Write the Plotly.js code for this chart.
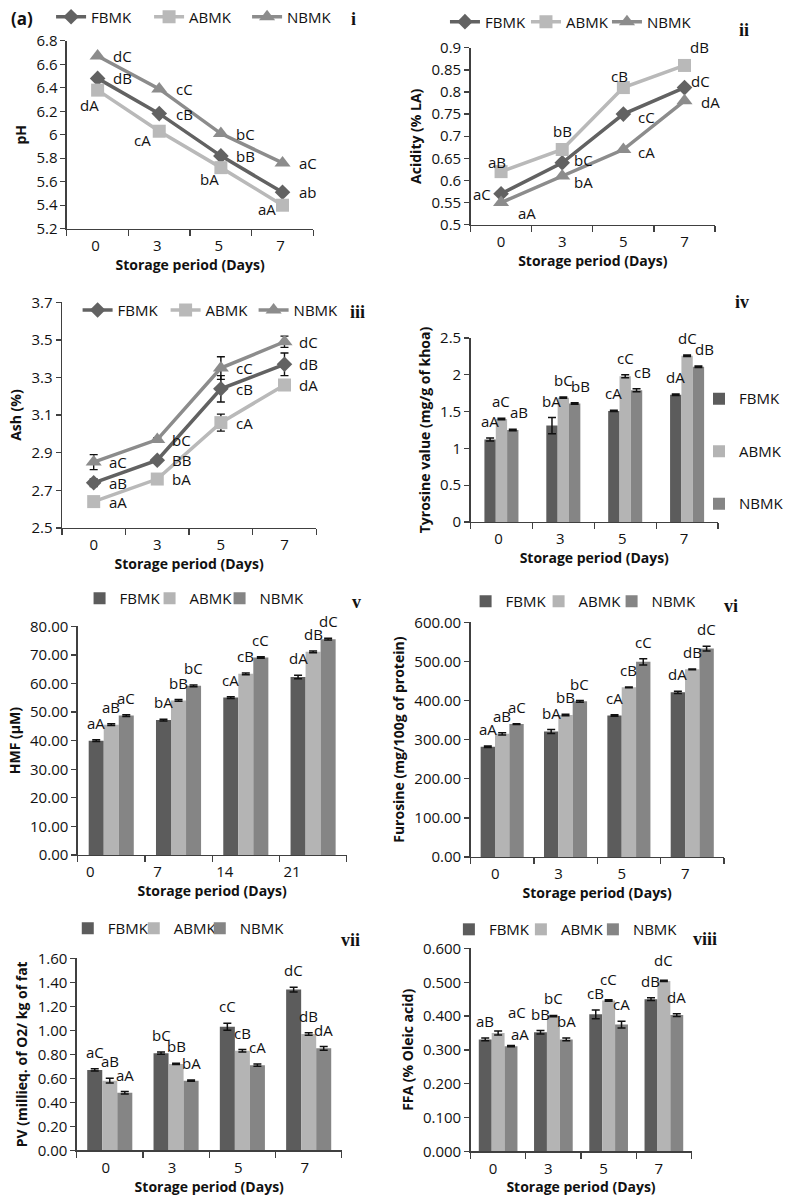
<!DOCTYPE html>
<html><head><meta charset="utf-8">
<script src="https://cdn.plot.ly/plotly-3.0.1.min.js"></script>
<style>html,body{margin:0;padding:0;background:#fff;}#chart{width:789px;height:1196px;}</style>
</head><body><div id="chart"></div>
<script>
const W = 789, H = 1196;
const seriesNames = ['FBMK', 'ABMK', 'NBMK'];
const days = ['0', '3', '5', '7'];
const daysHMF = ['0', '7', '14', '21'];

// (i) pH
const pH_FBMK = [6.48, 6.18, 5.82, 5.51];
const pH_ABMK = [6.38, 6.03, 5.72, 5.40];
const pH_NBMK = [6.67, 6.39, 6.01, 5.76];
const pH_lab_FBMK = ['dB', 'cB', 'bB', 'ab'];
const pH_lab_ABMK = ['dA', 'cA', 'bA', 'aA'];
const pH_lab_NBMK = ['dC', 'cC', 'bC', 'aC'];

// (ii) Acidity
const acid_FBMK = [0.57, 0.64, 0.75, 0.81];
const acid_ABMK = [0.62, 0.67, 0.81, 0.86];
const acid_NBMK = [0.55, 0.61, 0.67, 0.78];
const acid_lab_FBMK = ['aC', 'bC', 'cC', 'dC'];
const acid_lab_ABMK = ['aB', 'bB', 'cB', 'dB'];
const acid_lab_NBMK = ['aA', 'bA', 'cA', 'dA'];

// (iii) Ash
const ash_FBMK = [2.74, 2.86, 3.24, 3.37];
const ash_ABMK = [2.64, 2.76, 3.06, 3.26];
const ash_NBMK = [2.85, 2.97, 3.35, 3.49];
const ash_err_FBMK = [0.02, 0.01, 0.07, 0.06];
const ash_err_ABMK = [0.02, 0.02, 0.045, 0.02];
const ash_err_NBMK = [0.04, 0.01, 0.06, 0.03];
const ash_lab_FBMK = ['aB', 'BB', 'cB', 'dB'];
const ash_lab_ABMK = ['aA', 'bA', 'cA', 'dA'];
const ash_lab_NBMK = ['aC', 'bC', 'cC', 'dC'];

// (iv) Tyrosine
const tyr_FBMK = [1.12, 1.31, 1.51, 1.73];
const tyr_ABMK = [1.40, 1.69, 1.98, 2.26];
const tyr_NBMK = [1.25, 1.61, 1.79, 2.11];
const tyr_err_FBMK = [0.02, 0.11, 0.01, 0.01];
const tyr_err_ABMK = [0.01, 0.01, 0.02, 0.01];
const tyr_err_NBMK = [0.01, 0.01, 0.02, 0.01];
const tyr_lab_FBMK = ['aA', 'bA', 'cA', 'dA'];
const tyr_lab_ABMK = ['aC', 'bC', 'cC', 'dC'];
const tyr_lab_NBMK = ['aB', 'bB', 'cB', 'dB'];

// (v) HMF
const hmf_FBMK = [40.0, 47.2, 55.1, 62.3];
const hmf_ABMK = [45.6, 54.1, 63.4, 71.1];
const hmf_NBMK = [48.8, 59.2, 69.1, 75.5];
const hmf_err_FBMK = [0.3, 0.3, 0.3, 0.6];
const hmf_err_ABMK = [0.3, 0.3, 0.3, 0.3];
const hmf_err_NBMK = [0.3, 0.3, 0.3, 0.3];
const hmf_lab_FBMK = ['aA', 'bA', 'cA', 'dA'];
const hmf_lab_ABMK = ['aB', 'bB', 'cB', 'dB'];
const hmf_lab_NBMK = ['aC', 'bC', 'cC', 'dC'];

// (vi) Furosine
const fur_FBMK = [282, 321, 362, 421];
const fur_ABMK = [315, 363, 434, 480];
const fur_NBMK = [340, 398, 499, 533];
const fur_err_FBMK = [2, 5, 2, 3];
const fur_err_ABMK = [3, 2, 1, 1];
const fur_err_NBMK = [1, 2, 8, 6];
const fur_lab_FBMK = ['aA', 'bA', 'cA', 'dA'];
const fur_lab_ABMK = ['aB', 'bB', 'cB', 'dB'];
const fur_lab_NBMK = ['aC', 'bC', 'cC', 'dC'];

// (vii) PV
const pv_FBMK = [0.67, 0.81, 1.03, 1.34];
const pv_ABMK = [0.58, 0.72, 0.83, 0.97];
const pv_NBMK = [0.48, 0.58, 0.71, 0.85];
const pv_err_FBMK = [0.01, 0.01, 0.03, 0.02];
const pv_err_ABMK = [0.02, 0.005, 0.01, 0.01];
const pv_err_NBMK = [0.01, 0.005, 0.01, 0.015];
const pv_lab_FBMK = ['aC', 'bC', 'cC', 'dC'];
const pv_lab_ABMK = ['aB', 'bB', 'cB', 'dB'];
const pv_lab_NBMK = ['aA', 'bA', 'cA', 'dA'];

// (viii) FFA
const ffa_FBMK = [0.331, 0.352, 0.405, 0.450];
const ffa_ABMK = [0.350, 0.400, 0.446, 0.504];
const ffa_NBMK = [0.311, 0.331, 0.375, 0.403];
const ffa_err_FBMK = [0.004, 0.005, 0.013, 0.004];
const ffa_err_ABMK = [0.006, 0.002, 0.002, 0.002];
const ffa_err_NBMK = [0.002, 0.004, 0.01, 0.004];
const ffa_lab_FBMK = ['aB', 'bB', 'cB', 'dB'];
const ffa_lab_ABMK = ['aC', 'bC', 'cC', 'dC'];
const ffa_lab_NBMK = ['aA', 'bA', 'cA', 'dA'];

// ---------------- styling / layout -----------------
const FONT = 'Open Sans, Lato, sans-serif';
const SERIF = 'Liberation Serif, DejaVu Serif, serif';
const AX = '#404040';
const BARCOL = {FBMK: '#5c5c5c', ABMK: '#b4b4b4', NBMK: '#858585'};
const LINECOL = {FBMK: '#626262', ABMK: '#b9b9b9', NBMK: '#8c8c8c'};
const SYM = {FBMK: 'diamond', ABMK: 'square', NBMK: 'triangle-up'};
const MSIZE = {FBMK: 12, ABMK: 13, NBMK: 14};

const panels = [
  {kind: 'line', box: [68, 319, 34, 223], cats: days, yr: [5.2, 6.8], dtick: 0.2, fmt: '', ytitle: 'pH',
   vals: {FBMK: pH_FBMK, ABMK: pH_ABMK, NBMK: pH_NBMK}, errs: null,
   labs: {FBMK: pH_lab_FBMK, ABMK: pH_lab_ABMK, NBMK: pH_lab_NBMK},
   off: {FBMK: [[25, 0]], ABMK: [[-8, -15], [-17, -9], [-11, -11], [-16, -4]], NBMK: [[25, 0]]},
   tag: 'i', tagPos: [360, 12], leg: {x: 52, y: 10, ew: 53}, shift: -2},
  {kind: 'line', box: [479, 728, 41, 219], cats: days, yr: [0.5, 0.9], dtick: 0.05, fmt: '.2~f', ytitle: 'Acidity (% LA)',
   vals: {FBMK: acid_FBMK, ABMK: acid_ABMK, NBMK: acid_NBMK}, errs: null,
   labs: {FBMK: acid_lab_FBMK, ABMK: acid_lab_ABMK, NBMK: acid_lab_NBMK},
   off: {FBMK: [[-19, 0], [21, 3], [23, -3], [16, 7]], ABMK: [[-4, 10], [0, 19], [-4, 12], [15, 18]], NBMK: [[26, -10], [21, -6], [23, -2], [26, -1]]},
   tag: 'ii', tagPos: [757, 23], leg: {x: 453, y: 15, ew: 36}, shift: 0},
  {kind: 'line', box: [63, 322, 297, 524], cats: days, yr: [2.5, 3.7], dtick: 0.2, fmt: '', ytitle: 'Ash (%)',
   vals: {FBMK: ash_FBMK, ABMK: ash_ABMK, NBMK: ash_NBMK}, errs: {FBMK: ash_err_FBMK, ABMK: ash_err_ABMK, NBMK: ash_err_NBMK},
   labs: {FBMK: ash_lab_FBMK, ABMK: ash_lab_ABMK, NBMK: ash_lab_NBMK},
   off: {FBMK: [[24, 0]], ABMK: [[24, 0]], NBMK: [[24, 0]]},
   tag: 'iii', tagPos: [364, 307], leg: {x: 79, y: 305, ew: 43}, shift: 0},
  {kind: 'bar', box: [479, 731, 333, 518], cats: days, yr: [0, 2.5], dtick: 0.5, fmt: '', ytitle: 'Tyrosine value (mg/g of khoa)',
   vals: {FBMK: tyr_FBMK, ABMK: tyr_ABMK, NBMK: tyr_NBMK}, errs: {FBMK: tyr_err_FBMK, ABMK: tyr_err_ABMK, NBMK: tyr_err_NBMK},
   labs: {FBMK: tyr_lab_FBMK, ABMK: tyr_lab_ABMK, NBMK: tyr_lab_NBMK}, gap: 0.45,
   nudge: {NBMK: [6, 0]},
   tag: 'iv', tagPos: [755, 297], leg: {x: 712, y: 447, vertical: true, gap: 30}, shift: -3},
  {kind: 'bar', box: [79, 353, 623, 853], cats: daysHMF, yr: [0, 80], dtick: 10, fmt: '.2f', ytitle: 'HMF (μM)',
   vals: {FBMK: hmf_FBMK, ABMK: hmf_ABMK, NBMK: hmf_NBMK}, errs: {FBMK: hmf_err_FBMK, ABMK: hmf_err_ABMK, NBMK: hmf_err_NBMK},
   labs: {FBMK: hmf_lab_FBMK, ABMK: hmf_lab_ABMK, NBMK: hmf_lab_NBMK}, gap: 0.33,
   tag: 'v', tagPos: [363, 599], leg: {x: 81, y: 595, ew: 25}, shift: -21},
  {kind: 'bar', box: [479, 737, 619, 855], cats: days, yr: [0, 600], dtick: 100, fmt: '.2f', ytitle: 'Furosine (mg/100g of protein)',
   vals: {FBMK: fur_FBMK, ABMK: fur_ABMK, NBMK: fur_NBMK}, errs: {FBMK: fur_err_FBMK, ABMK: fur_err_ABMK, NBMK: fur_err_NBMK},
   labs: {FBMK: fur_lab_FBMK, ABMK: fur_lab_ABMK, NBMK: fur_lab_NBMK}, gap: 0.32,
   tag: 'vi', tagPos: [744, 603], leg: {x: 474, y: 598, ew: 28}, shift: -7},
  {kind: 'bar', box: [78, 348, 957, 1150], cats: days, yr: [0, 1.6], dtick: 0.2, fmt: '.2f', ytitle: 'PV (millieq. of O2/ kg of fat',
   vals: {FBMK: pv_FBMK, ABMK: pv_ABMK, NBMK: pv_NBMK}, errs: {FBMK: pv_err_FBMK, ABMK: pv_err_ABMK, NBMK: pv_err_NBMK},
   labs: {FBMK: pv_lab_FBMK, ABMK: pv_lab_ABMK, NBMK: pv_lab_NBMK}, gap: 0.32,
   tag: 'vii', tagPos: [357, 938], leg: {x: 69, y: 927, ew: 21}, shift: -4},
  {kind: 'bar', box: [479, 704, 947, 1151], cats: days, yr: [0, 0.6], dtick: 0.1, fmt: '.3f', ytitle: 'FFA (% Oleic acid)',
   vals: {FBMK: ffa_FBMK, ABMK: ffa_ABMK, NBMK: ffa_NBMK}, errs: {FBMK: ffa_err_FBMK, ABMK: ffa_err_ABMK, NBMK: ffa_err_NBMK},
   labs: {FBMK: ffa_lab_FBMK, ABMK: ffa_lab_ABMK, NBMK: ffa_lab_NBMK}, gap: 0.30,
   nudgeAt: {'ABMK-0': [19, 2], 'NBMK-0': [9, -6], 'ABMK-2': [0, 4], 'ABMK-3': [0, 3]},
   tag: 'viii', tagPos: [718, 937], leg: {x: 457, y: 928, ew: 27}, shift: -5}
];

const traces = [];
const annotations = [];
const layout = {
  width: W, height: H, margin: {l: 0, r: 0, t: 0, b: 0},
  paper_bgcolor: '#fff', plot_bgcolor: '#fff', showlegend: true,
  font: {family: FONT, color: '#111'}, barmode: 'overlay', hovermode: false,
  annotations: annotations
};

panels.forEach((p, pi) => {
  const k = pi + 1;
  const xa = 'x' + k, ya = 'y' + k;
  const legKey = k === 1 ? 'legend' : 'legend' + k;
  const b = p.box;
  const n = p.cats.length;
  const idx = p.cats.map((c, i) => i);
  const bounds = [];
  for (let i = 0; i <= n; i++) bounds.push(i - 0.5);

  layout['xaxis' + k] = {
    domain: [b[0] / W, b[1] / W], anchor: ya, range: [-0.5, n - 0.5],
    tickmode: 'array', tickvals: idx, ticktext: p.cats, ticks: '',
    showline: true, linecolor: AX, linewidth: 1.3, showgrid: false, zeroline: false,
    tickfont: {family: FONT, size: 15, color: '#111'},
    ticklabelstandoff: 3, ticklabelshift: p.shift,
    minor: {tickmode: 'array', tickvals: bounds, ticks: 'outside', ticklen: 6, tickcolor: AX, tickwidth: 1.3, showgrid: false},
    title: {text: '<b>Storage period (Days)</b>', font: {family: FONT, size: 14, color: '#111'}, standoff: 0},
    fixedrange: true
  };
  layout['yaxis' + k] = {
    domain: [1 - b[3] / H, 1 - b[2] / H], anchor: xa, range: p.yr,
    tick0: p.yr[0], dtick: p.dtick, tickformat: p.fmt,
    showline: true, linecolor: AX, linewidth: 1.3, ticks: 'outside', ticklen: 5, tickcolor: AX, tickwidth: 1.3,
    showgrid: false, zeroline: false,
    tickfont: {family: FONT, size: 15, color: '#111'},
    title: {text: '<b>' + p.ytitle + '</b>', font: {family: FONT, size: 14, color: '#111'}, standoff: 6},
    fixedrange: true
  };
  layout[legKey] = {
    orientation: p.leg.vertical ? 'v' : 'h',
    x: p.leg.x / W, y: 1 - p.leg.y / H, xanchor: 'left', yanchor: 'middle',
    font: {family: FONT, size: 15, color: '#111'}, bgcolor: 'rgba(0,0,0,0)',
    entrywidth: p.leg.ew || 0, entrywidthmode: 'pixels',
    tracegroupgap: p.leg.gap || 0, itemclick: false, itemdoubleclick: false
  };

  const barW = p.kind === 'bar' ? (1 - p.gap) / seriesNames.length : 0;

  seriesNames.forEach((s, si) => {
    const vals = p.vals[s];
    const err = p.errs ? p.errs[s] : null;
    const isLast = si === seriesNames.length - 1;
    if (p.kind === 'line') {
      const tr = {
        type: 'scatter', mode: 'lines+markers', name: s, x: idx, y: vals,
        xaxis: xa, yaxis: ya, legend: legKey,
        line: {color: LINECOL[s], width: 3.5},
        marker: {symbol: SYM[s], size: MSIZE[s], color: LINECOL[s]},
        cliponaxis: false
      };
      if (isLast) tr.legendwidth = 50;
      if (err) tr.error_y = {type: 'data', array: err, visible: true, color: '#111', thickness: 1.4, width: 4};
      traces.push(tr);
      vals.forEach((v, i) => {
        const o = p.off[s][Math.min(i, p.off[s].length - 1)];
        annotations.push({xref: xa, yref: ya, x: i, y: v, text: p.labs[s][i], showarrow: false,
          xshift: o[0], yshift: o[1], font: {family: FONT, size: 15, color: '#111'}});
      });
    } else {
      const offset = -(1 - p.gap) / 2 + si * barW;
      const tr = {
        type: 'bar', name: s, x: idx, y: vals, xaxis: xa, yaxis: ya, legend: legKey,
        width: barW, offset: offset,
        marker: {color: BARCOL[s], line: {width: 0}},
        error_y: {type: 'data', array: err, visible: true, color: '#111', thickness: 1.5, width: 4}
      };
      if (p.leg.vertical) tr.legendgroup = 'g' + k + s;
      else if (isLast) tr.legendwidth = 48;
      traces.push(tr);
      vals.forEach((v, i) => {
        let nx = 0, ny = 0;
        if (p.nudge && p.nudge[s]) { nx += p.nudge[s][0]; ny += p.nudge[s][1]; }
        const key = s + '-' + i;
        if (p.nudgeAt && p.nudgeAt[key]) { nx += p.nudgeAt[key][0]; ny += p.nudgeAt[key][1]; }
        annotations.push({xref: xa, yref: ya, x: i + offset + barW / 2, y: v + err[i], yanchor: 'bottom',
          text: p.labs[s][i], showarrow: false, xshift: nx, yshift: 5 + ny,
          font: {family: FONT, size: 15, color: '#111'}});
      });
    }
  });

  annotations.push({xref: 'paper', yref: 'paper', x: p.tagPos[0] / W, y: 1 - p.tagPos[1] / H,
    xanchor: 'center', yanchor: 'middle', text: '<b>' + p.tag + '</b>', showarrow: false,
    font: {family: SERIF, size: 18, color: '#111'}});
});

annotations.push({xref: 'paper', yref: 'paper', x: 22 / W, y: 1 - 12 / H, xanchor: 'center', yanchor: 'middle',
  text: '<b>(a)</b>', showarrow: false, font: {family: FONT, size: 17, color: '#111'}});

Plotly.newPlot('chart', traces, layout, {staticPlot: true, displayModeBar: false});
</script>
</body></html>
